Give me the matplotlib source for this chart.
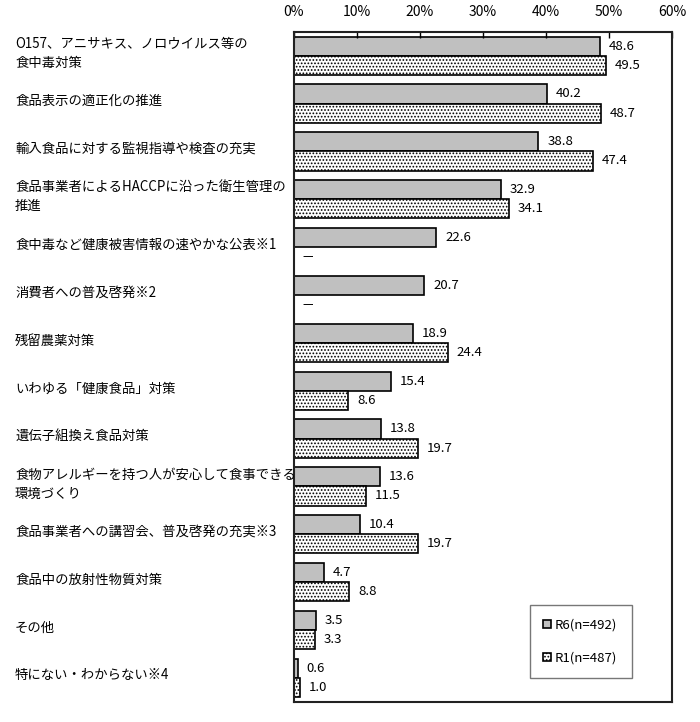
import numpy as np
import matplotlib
matplotlib.use("Agg")
import matplotlib.pyplot as plt

plt.rcParams['font.family'] = ['Noto Sans CJK JP', 'DejaVu Sans']
plt.rcParams['hatch.linewidth'] = 0.8

# data
categories = [
    "O157、アニサキス、ノロウイルス等の\n食中毒対策",
    "食品表示の適正化の推進",
    "輸入食品に対する監視指導や検査の充実",
    "食品事業者によるHACCPに沿った衛生管理の\n推進",
    "食中毒など健康被害情報の速やかな公表※1",
    "消費者への普及啓発※2",
    "残留農薬対策",
    "いわゆる「健康食品」対策",
    "遺伝子組換え食品対策",
    "食物アレルギーを持つ人が安心して食事できる\n環境づくり",
    "食品事業者への講習会、普及啓発の充実※3",
    "食品中の放射性物質対策",
    "その他",
    "特にない・わからない※4",
]
r6 = [48.6, 40.2, 38.8, 32.9, 22.6, 20.7, 18.9, 15.4, 13.8, 13.6, 10.4, 4.7, 3.5, 0.6]
r1 = [49.5, 48.7, 47.4, 34.1, None, None, 24.4, 8.6, 19.7, 11.5, 19.7, 8.8, 3.3, 1.0]
series_names = ["R6(n=492)", "R1(n=487)"]
xticks = [0, 10, 20, 30, 40, 50, 60]

fig = plt.figure(figsize=(7, 7.22), dpi=100)
ax = fig.add_axes([0.42, 0.028, 0.54, 0.928])

y = np.arange(len(categories))
h = 0.4
r1_vals = [v if v is not None else 0 for v in r1]

b6 = ax.barh(y - h / 2, r6, height=h, color='#c0c0c0', edgecolor='black', linewidth=1.2,
             label=series_names[0])
b1 = ax.barh(y + h / 2, r1_vals, height=h, color='white', edgecolor='black', linewidth=1.2,
             hatch='.....', label=series_names[1])

for i in range(len(categories)):
    ax.text(r6[i] + 1.4, y[i] - h / 2, f"{r6[i]:.1f}", va='center', ha='left', fontsize=9.5)
    if r1[i] is None:
        ax.text(1.4, y[i] + h / 2, "—", va='center', ha='left', fontsize=8.5)
    else:
        ax.text(r1[i] + 1.4, y[i] + h / 2, f"{r1[i]:.1f}", va='center', ha='left', fontsize=9.5)

ax.set_xlim(0, 60)
ax.set_ylim(len(categories) - 0.5, -0.5)
ax.set_xticks(xticks)
ax.set_xticklabels([f"{t}%" for t in xticks], fontsize=10)
ax.xaxis.tick_top()
ax.tick_params(axis='x', direction='in', length=4, pad=9, width=1)
ax.set_yticks([])
for s in ax.spines.values():
    s.set_linewidth(1.5)
    s.set_color('#222222')

for i, c in enumerate(categories):
    ax.text(-0.738, i - 0.05, c, transform=ax.get_yaxis_transform(), ha='left', va='center',
            fontsize=9.6, linespacing=1.45)

leg = ax.legend(loc='lower right', bbox_to_anchor=(0.624, 0.036, 0.27, 0.109),
                mode='expand', fontsize=9.5, handlelength=0.6, handleheight=0.6,
                labelspacing=1.5, fancybox=False, edgecolor='#555555', borderpad=1.0,
                handletextpad=0.3, borderaxespad=0)
leg.get_frame().set_linewidth(1.0)

fig.savefig("out.png", dpi=100)
